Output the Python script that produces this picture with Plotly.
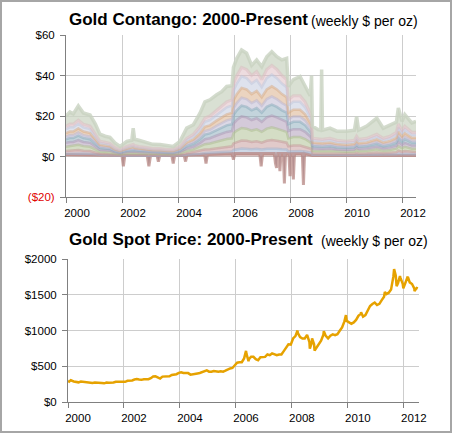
import plotly.graph_objects as go

# ---------------- Top chart: gold contango ($/oz) ----------------
contango_dates = [2000.0, 2000.14, 2000.26, 2000.44, 2000.62, 2000.86, 2001.05, 2001.21, 2001.4, 2001.57,
                  2001.75, 2001.93, 2002.17, 2002.35, 2002.4, 2002.45, 2002.6, 2002.88, 2003.1, 2003.36,
                  2003.6, 2003.83, 2004.07, 2004.31, 2004.55, 2004.79, 2004.96, 2005.14, 2005.38, 2005.56,
                  2005.74, 2005.93, 2005.98, 2006.1, 2006.27, 2006.45, 2006.63, 2006.81, 2006.99, 2007.17,
                  2007.35, 2007.53, 2007.71, 2007.88, 2007.94, 2008.12, 2008.36, 2008.54, 2008.72, 2008.77,
                  2008.8, 2009.0, 2009.1, 2009.13, 2009.16, 2009.43, 2009.67, 2010.02, 2010.3, 2010.38,
                  2010.45, 2010.74, 2011.1, 2011.33, 2011.57, 2011.8, 2011.87, 2012.0, 2012.1, 2012.35, 2012.5]
contango_longest = [20, 22, 21, 25, 21.5, 20.5, 16, 11, 10, 9.5,
                    6.7, 5, 7.5, 8, 14, 8.5, 8, 6.7, 6, 5.9,
                    5.5, 5, 7.5, 14, 15.7, 21.5, 27, 28, 30.5, 32,
                    34.6, 35, 44, 48.5, 52.6, 51, 45, 47.7, 44.4, 49.3,
                    51.8, 49.3, 47.7, 48.5, 34.6, 38, 39.5, 34.6, 30, 40,
                    15, 13.3, 13, 43, 13, 14, 12.5, 12.5, 13, 19.8,
                    13, 15, 19, 14, 15.7, 17, 24, 17.4, 20.7, 16.6, 17.4]
contango_second = [15, 16, 16, 18, 16, 15, 11, 7.5, 7, 6.5,
                   4.5, 3.5, 5, 5.5, 6, 5.5, 5, 4.5, 4, 4,
                   3.5, 3.5, 5, 9, 11, 15, 19, 20, 23, 25,
                   27, 28, 36, 40, 44, 43, 40, 42, 38, 43,
                   45, 43, 40, 38, 28, 30, 30, 27, 22, 20,
                   9, 8.5, 8.5, 8.5, 8.5, 9, 8, 7.5, 8, 10,
                   8.5, 9, 11, 9, 10, 12, 16, 13, 15, 12, 12]
# remaining maturities relative to the second series (read at the 2006 peak)
layer_ratio = [0.09, 0.18, 0.32, 0.45, 0.57, 0.66, 0.77, 0.90]

near_dates = [2000.0, 2001.9, 2002.0, 2002.05, 2002.1, 2002.9, 2002.96, 2003.02, 2003.25, 2003.3,
              2003.35, 2003.78, 2003.83, 2003.88, 2004.22, 2004.27, 2004.32, 2004.95, 2005.0, 2005.05,
              2005.93, 2005.98, 2006.03, 2006.92, 2006.97, 2007.02, 2007.44, 2007.48, 2007.52, 2007.56,
              2007.6, 2007.64, 2007.68, 2007.76, 2007.8, 2007.84, 2007.96, 2008.0, 2008.04, 2008.08,
              2008.12, 2008.16, 2008.44, 2008.48, 2008.52, 2008.8, 2012.5]
near_values = [1, 0.5, 0.5, -4.8, 0.5, 0.5, -4.8, 0.5, 0.5, -2.5,
               0.5, 0.5, -3.5, 0.5, 0.5, -2.5, 0.8, 1, -3.5, 1,
               1.5, -1.5, 1.5, 1.5, -4.8, 1.5, 1.5, -3.3, -5.6, 1.5,
               1.5, -7.2, 1.5, 1.5, -13.3, 1.5, 1.5, -9.7, 1.5, 1.5,
               -11.3, 1.5, 1.5, -14.1, 1.5, 0.5, 0.5]

# ---------------- Bottom chart: gold spot price ($/oz) ----------------
gold_monthly = [
    284, 300, 287, 280, 275, 286, 282, 274, 274, 270, 266, 272,
    266, 262, 264, 261, 272, 270, 268, 273, 283, 283, 276, 276,
    282, 296, 294, 302, 314, 321, 314, 310, 319, 317, 319, 333,
    357, 359, 340, 328, 355, 356, 351, 360, 379, 379, 389, 407,
    414, 405, 406, 404, 383, 392, 398, 400, 406, 420, 439, 442,
    424, 423, 434, 428, 422, 430, 424, 438, 456, 470, 476, 510,
    549, 555, 557, 610, 676, 596, 633, 632, 599, 585, 627, 629,
    631, 665, 655, 679, 667, 655, 665, 665, 712, 754, 806, 803,
    889, 922, 968, 909, 888, 889, 939, 839, 829, 806, 760, 816,
    858, 943, 924, 890, 928, 946, 934, 949, 996, 1043, 1127, 1134,
    1118, 1095, 1113, 1148, 1205, 1232, 1193, 1215, 1271, 1343, 1370, 1391,
    1356, 1372, 1424, 1473, 1510, 1529, 1572, 1756, 1771, 1665, 1739, 1652,
    1656, 1742, 1673, 1650, 1585, 1596]
gold_extra_dates = [2000.0, 2000.12, 2006.36, 2006.45, 2008.2, 2008.64, 2008.72, 2008.81, 2009.14,
                    2009.93, 2010.47, 2011.32, 2011.65, 2011.74, 2011.86, 2011.98, 2012.15, 2012.38, 2012.5]
gold_extra_prices = [298, 312, 715, 570, 1000, 745, 890, 720, 990,
                     1215, 1255, 1540, 1860, 1620, 1760, 1590, 1740, 1550, 1590]

year_ticks = [2000, 2002, 2004, 2006, 2008, 2010, 2012]
top_y_ticks = [-20, 0, 20, 40, 60]
top_y_labels = ["<span style='color:#e00000'>($20)</span>", "$0", "$20", "$40", "$60"]
bot_y_ticks = [0, 500, 1000, 1500, 2000]
bot_y_labels = ["$0", "$500", "$1000", "$1500", "$2000"]

# ---------------- build ----------------
gold_pts = [(2000 + (i + 0.5) / 12, v) for i, v in enumerate(gold_monthly)]
gold_pts += list(zip(gold_extra_dates, gold_extra_prices))
gold_pts.sort()
gold_x = [p[0] for p in gold_pts]
gold_y = [p[1] for p in gold_pts]

fig = go.Figure()

A = 0.5
layer_colors = [f"rgba(160,178,205,{A})", f"rgba(195,150,150,{A})", f"rgba(170,188,140,{A})",
                f"rgba(170,150,180,{A})", f"rgba(135,170,185,{A})", f"rgba(185,180,205,{A})",
                f"rgba(215,170,130,{A})", f"rgba(190,198,220,{A})"]

fig.add_trace(go.Scatter(x=near_dates, y=near_values, mode="lines",
                         line=dict(color="rgba(180,130,125,0.7)", width=3),
                         fill="tozeroy", fillcolor="rgba(180,130,125,0.55)",
                         hoverinfo="skip", showlegend=False, xaxis="x", yaxis="y"))
for r, c in zip(layer_ratio, layer_colors):
    fig.add_trace(go.Scatter(x=contango_dates, y=[v * r for v in contango_second], mode="lines",
                             line=dict(color=c, width=2.5), fill="tonexty", fillcolor=c,
                             hoverinfo="skip", showlegend=False, xaxis="x", yaxis="y"))
fig.add_trace(go.Scatter(x=contango_dates, y=contango_second, mode="lines",
                         line=dict(color=f"rgba(220,185,192,{A})", width=3), fill="tonexty",
                         fillcolor=f"rgba(220,185,192,{A})",
                         hoverinfo="skip", showlegend=False, xaxis="x", yaxis="y"))
fig.add_trace(go.Scatter(x=contango_dates, y=contango_longest, mode="lines",
                         line=dict(color="rgba(200,210,192,0.8)", width=3.5), fill="tonexty",
                         fillcolor="rgba(204,213,196,0.75)",
                         hoverinfo="skip", showlegend=False, xaxis="x", yaxis="y"))

fig.add_trace(go.Scatter(x=gold_x, y=gold_y, mode="lines",
                         line=dict(color="#e6a200", width=2.5),
                         hoverinfo="skip", showlegend=False, xaxis="x2", yaxis="y2"))

W, H = 452, 433
ML, MR, MT, MB = 66, 33, 35, 31
PW, PH = W - ML - MR, H - MT - MB


def px(x):
    return (x - ML) / PW


def py(y):
    return (H - MB - y) / PH


axis_common = dict(showgrid=True, gridcolor="#cdcdcd", gridwidth=1,
                   showline=True, linecolor="#808080", linewidth=1,
                   ticks="outside", ticklen=5, tickcolor="#808080",
                   zeroline=False, automargin=False,
                   tickfont=dict(size=11.5, color="#000000"))

fig.update_layout(
    width=W, height=H,
    margin=dict(l=ML, r=MR, t=MT, b=MB, autoexpand=False),
    paper_bgcolor="white", plot_bgcolor="white",
    font=dict(family="Liberation Sans, Arial, sans-serif", color="#000000"),
    xaxis=dict(domain=[0, px(416)], range=[2000, 2012.5], anchor="y",
               tickvals=year_ticks, ticktext=[str(y) for y in year_ticks],
               ticklabelshift=11, **axis_common),
    yaxis=dict(domain=[py(197), 1], range=[-20, 60], anchor="x",
               tickvals=top_y_ticks, ticktext=top_y_labels, ticklabelstandoff=3, **axis_common),
    xaxis2=dict(domain=[px(68), 1], range=[2000, 2012.54], anchor="y2",
                tickvals=year_ticks, ticktext=[str(y) for y in year_ticks],
                ticklabelshift=10, **axis_common),
    yaxis2=dict(domain=[0, py(259)], range=[0, 2000], anchor="x2",
                tickvals=bot_y_ticks, ticktext=bot_y_labels, ticklabelstandoff=3, **axis_common),
    annotations=[
        dict(text="<b>Gold Contango: 2000-Present</b>", x=px(67), y=py(19.5), xref="paper", yref="paper",
             xanchor="left", yanchor="middle", showarrow=False, font=dict(size=17, color="#000000")),
        dict(text="(weekly $ per oz)", x=px(309), y=py(20.5), xref="paper", yref="paper",
             xanchor="left", yanchor="middle", showarrow=False, font=dict(size=14, color="#000000")),
        dict(text="<b>Gold Spot Price: 2000-Present</b>", x=px(67), y=py(239.5), xref="paper", yref="paper",
             xanchor="left", yanchor="middle", showarrow=False, font=dict(size=17, color="#000000")),
        dict(text="(weekly $ per oz)", x=px(319), y=py(240.5), xref="paper", yref="paper",
             xanchor="left", yanchor="middle", showarrow=False, font=dict(size=14, color="#000000")),
    ],
    shapes=[dict(type="rect", xref="paper", yref="paper",
                 x0=px(1), x1=px(451), y0=py(432), y1=py(1),
                 line=dict(color="#a6a6a6", width=2), fillcolor="rgba(0,0,0,0)")],
)

fig.write_html("out.html", config={"displayModeBar": False},
               post_script="document.body.style.margin='0';document.body.style.overflow='hidden';")
